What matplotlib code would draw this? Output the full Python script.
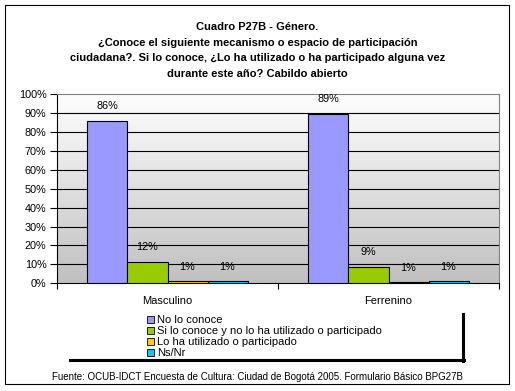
import matplotlib.pyplot as plt
import numpy as np
from matplotlib.lines import Line2D
from matplotlib.patches import Rectangle
from matplotlib.colors import LinearSegmentedColormap

plt.rcParams['font.family'] = ['Liberation Sans', 'DejaVu Sans']

# Datos
categorias = ['Masculino', 'Ferrenino']
series = ['No lo conoce',
          'Si lo conoce y no lo ha utilizado o participado',
          'Lo ha utilizado o participado',
          'Ns/Nr']
no_conoce = [86, 89.4]
conoce_no_usa = [11.5, 8.8]
ha_utilizado = [1, 0.6]
ns_nr = [1, 1]
colores = ['#9999FF', '#99CC00', '#FFCC00', '#00CCFF']

titulo = ('Cuadro P27B - Género.\n'
          '¿Conoce el siguiente mecanismo o espacio de participación\n'
          'ciudadana?. Si lo conoce, ¿Lo ha utilizado o ha participado alguna vez\n'
          'durante este año? Cabildo abierto')
fuente = ('Fuente: OCUB-IDCT Encuesta de Cultura: Ciudad de Bogotá 2005. '
          'Formulario Básico BPG27B')

fig = plt.figure(figsize=(5.15, 3.91), dpi=100)
ax = fig.add_axes([57 / 515, 1 - 283.3 / 391, 442 / 515, 189.3 / 391])

# fondo degradado (gris abajo, blanco arriba)
grad = np.linspace(1, 0, 256).reshape(-1, 1)
cmap = LinearSegmentedColormap.from_list('g', ['#C0C0C0', '#FFFFFF'])
ax.imshow(grad, extent=[0, 1, 0, 1], transform=ax.transAxes, aspect='auto',
          cmap=cmap, zorder=0)

datos = [no_conoce, conoce_no_usa, ha_utilizado, ns_nr]
x = np.arange(len(categorias))
ancho = 0.181
for i, vals in enumerate(datos):
    pos = x + (i - 1.5) * ancho
    barras = ax.bar(pos, vals, ancho, color=colores[i], edgecolor='black',
                    linewidth=0.8, label=series[i], zorder=3)
    for b, v in zip(barras, vals):
        ax.annotate(f'{v:.0f}%', (b.get_x() + b.get_width() / 2, v),
                    xytext=(0, 10.5), textcoords='offset points',
                    ha='center', va='center', fontsize=7.8, zorder=4)

ax.set_xlim(-0.5, 1.5)
ax.set_ylim(0, 100)
ax.set_yticks(range(0, 101, 10))
ax.set_yticklabels([f'{t}%' for t in range(0, 101, 10)], fontsize=7.8)
for t in range(10, 100, 10):
    ax.axhline(t, color='black', linewidth=0.8, zorder=1)
ax.set_xticks([-0.5, 0.5, 1.5])
ax.set_xticklabels([])
ax.set_xticks(x, minor=True)
ax.set_xticklabels(categorias, minor=True, fontsize=8)
ax.tick_params(axis='x', which='minor', length=0, pad=9)
ax.tick_params(axis='x', which='major', length=4, width=0.8, direction='out')
ax.tick_params(axis='y', length=5, width=0.8, direction='out', pad=2.5)
for lado in ['left', 'bottom']:
    ax.spines[lado].set_color('black')
    ax.spines[lado].set_linewidth(0.8)
for lado in ['top', 'right']:
    ax.spines[lado].set_color('#808080')
    ax.spines[lado].set_linewidth(0.8)

fig.text(0.5, 1 - 22 / 391, titulo, ha='center', va='top', fontsize=8,
         fontweight='bold', linespacing=1.7)

manijas = [Rectangle((0, 0), 1, 1, facecolor=c, edgecolor='black', linewidth=0.6)
           for c in colores]
fig.legend(manijas, series, loc='upper left',
           bbox_to_anchor=(147 / 515, 1 - 315 / 391), frameon=False,
           fontsize=8, handlelength=0.6, handleheight=0.6, handletextpad=0.3,
           labelspacing=0.1, borderpad=0, borderaxespad=0)

# sombra de la leyenda
fig.add_artist(Line2D([70 / 515, 464 / 515], [1 - 360 / 391, 1 - 360 / 391],
                      color='black', linewidth=2.2))
fig.add_artist(Line2D([463 / 515, 463 / 515], [1 - 314 / 391, 1 - 361 / 391],
                      color='black', linewidth=2.2))

fig.text(0.5, 1 - 377 / 391, fuente, ha='center', va='center', fontsize=7)

# borde exterior
fig.add_artist(Rectangle((5 / 515, 1 - 384 / 391), 504 / 515, 379 / 391,
                         fill=False, edgecolor='black', linewidth=0.8,
                         transform=fig.transFigure))

fig.savefig('out.png', dpi=100)
